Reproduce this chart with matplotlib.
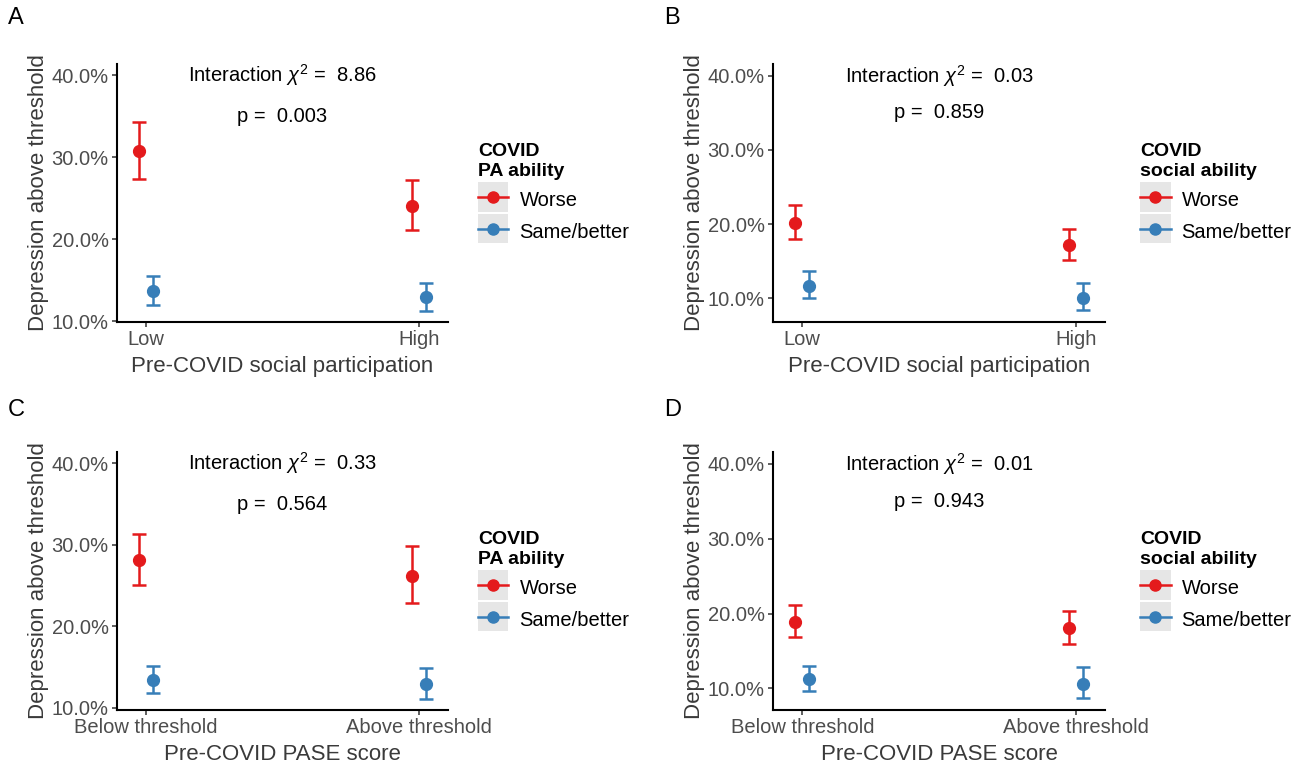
import numpy as np
import matplotlib
matplotlib.use('Agg')
import matplotlib.pyplot as plt
from matplotlib.lines import Line2D
from matplotlib.patches import Rectangle
from matplotlib.legend_handler import HandlerLine2D

plt.rcParams['font.family'] = ['Liberation Sans', 'DejaVu Sans']
plt.rcParams['mathtext.fontset'] = 'custom'
plt.rcParams['mathtext.rm'] = 'Liberation Sans'
plt.rcParams['mathtext.it'] = 'Liberation Sans:italic'

# ---- data (percent) ----
group_labels = ['Worse', 'Same/better']
social_cats = ['Low', 'High']
pase_cats = ['Below threshold', 'Above threshold']

# A: social participation x PA ability
a_worse = [30.8, 24.1]; a_worse_lo = [27.4, 21.1]; a_worse_hi = [34.3, 27.2]
a_same = [13.65, 12.9]; a_same_lo = [12.0, 11.3]; a_same_hi = [15.55, 14.7]
# B: social participation x social ability
b_worse = [20.1, 17.2]; b_worse_lo = [18.0, 15.2]; b_worse_hi = [22.6, 19.4]
b_same = [11.7, 10.0]; b_same_lo = [10.0, 8.4]; b_same_hi = [13.7, 12.0]
# C: PASE score x PA ability
c_worse = [28.1, 26.2]; c_worse_lo = [25.1, 22.9]; c_worse_hi = [31.4, 29.9]
c_same = [13.4, 12.95]; c_same_lo = [11.85, 11.15]; c_same_hi = [15.2, 14.85]
# D: PASE score x social ability
d_worse = [18.9, 18.0]; d_worse_lo = [16.9, 15.9]; d_worse_hi = [21.1, 20.4]
d_same = [11.2, 10.6]; d_same_lo = [9.6, 8.7]; d_same_hi = [13.0, 12.8]

chi_vals = ['8.86', '0.03', '0.33', '0.01']
p_vals = ['0.003', '0.859', '0.564', '0.943']

red = '#E41A1C'
blue = '#377EB8'
grey_txt = '#4D4D4D'


class KeyHandler(HandlerLine2D):
    # legend key with grey square background, like ggplot
    def create_artists(self, legend, orig_handle, xdescent, ydescent,
                       width, height, fontsize, trans):
        cy = (height - ydescent) / 2.0
        kh = 21.0
        bg = Rectangle((-xdescent, cy - kh / 2), width, kh,
                       facecolor='#E6E6E6', edgecolor='none', transform=trans)
        arts = super().create_artists(legend, orig_handle, xdescent, ydescent,
                                      width, height, fontsize, trans)
        return [bg] + list(arts)


def panel(ax, cats, worse, worse_lo, worse_hi, same, same_lo, same_hi,
          chi, p, xlabel, legend_title, ylim, leg_x):
    x = np.arange(len(cats)) + 1.0
    dodge = 0.025
    for vals, lo, hi, col, off in [(worse, worse_lo, worse_hi, red, -dodge),
                                   (same, same_lo, same_hi, blue, dodge)]:
        v = np.array(vals)
        err = [v - np.array(lo), np.array(hi) - v]
        ax.errorbar(x + off, v, yerr=err, fmt='o', color=col, ms=8.5,
                    elinewidth=1.8, capsize=5, capthick=1.8)
    ax.set_xlim(1 - 0.107, 2 + 0.107)
    ax.set_ylim(*ylim)
    ax.set_xticks(x)
    ax.set_xticklabels(cats)
    ax.set_yticks([10, 20, 30, 40])
    ax.set_yticklabels([f'{t:.1f}%' for t in [10, 20, 30, 40]])
    for s in ['top', 'right']:
        ax.spines[s].set_visible(False)
    for s in ['left', 'bottom']:
        ax.spines[s].set_linewidth(1.5)
    ax.tick_params(axis='both', labelsize=14.5, labelcolor=grey_txt,
                   length=3.5, width=1.1, color='#333333', pad=2.5)
    ax.set_xlabel(xlabel, fontsize=16, color='#3a3a3a', labelpad=5)
    ax.set_ylabel('Depression above threshold', fontsize=16, color='#3a3a3a',
                  labelpad=2)
    ax.text(1.5, 40, r'Interaction $\chi^2$ =  ' + chi, ha='center',
            va='center', fontsize=14.5)
    ax.text(1.5, 35, 'p =  ' + p, ha='center', va='center', fontsize=14.5)

    handles = [Line2D([], [], color=red, marker='o', ms=8, lw=1.8),
               Line2D([], [], color=blue, marker='o', ms=8, lw=1.8)]
    leg = ax.legend(handles, group_labels, title=legend_title,
                    loc='center left', bbox_to_anchor=(leg_x, 0.5),
                    frameon=False, fontsize=14.5, borderpad=0,
                    handlelength=1.5, handleheight=1.45, handletextpad=0.55,
                    labelspacing=0.38, alignment='left',
                    handler_map={Line2D: KeyHandler(numpoints=1)},
                    title_fontproperties={'weight': 'bold', 'size': 14})
    leg.get_title().set_linespacing(1.25)


fig = plt.figure(figsize=(12.96, 7.67), dpi=100)
W, H = 1296, 767


def add_ax(x0, x1, y0, y1):
    return fig.add_axes([x0 / W, 1 - y1 / H, (x1 - x0) / W, (y1 - y0) / H])


axA = add_ax(117, 448, 64, 322)
axB = add_ax(773, 1105, 64, 322)
axC = add_ax(117, 448, 452, 710)
axD = add_ax(773, 1105, 452, 710)

panel(axA, social_cats, a_worse, a_worse_lo, a_worse_hi, a_same, a_same_lo, a_same_hi,
      chi_vals[0], p_vals[0], 'Pre-COVID social participation', 'COVID\nPA ability',
      (9.9, 41.4), 1.061)
panel(axB, social_cats, b_worse, b_worse_lo, b_worse_hi, b_same, b_same_lo, b_same_hi,
      chi_vals[1], p_vals[1], 'Pre-COVID social participation', 'COVID\nsocial ability',
      (6.8, 41.6), 1.076)
panel(axC, pase_cats, c_worse, c_worse_lo, c_worse_hi, c_same, c_same_lo, c_same_hi,
      chi_vals[2], p_vals[2], 'Pre-COVID PASE score', 'COVID\nPA ability',
      (9.75, 41.4), 1.061)
panel(axD, pase_cats, d_worse, d_worse_lo, d_worse_hi, d_same, d_same_lo, d_same_hi,
      chi_vals[3], p_vals[3], 'Pre-COVID PASE score', 'COVID\nsocial ability',
      (7.1, 41.6), 1.076)

# panel letters
for letter, (px, py) in zip('ABCD', [(8, 18), (664, 18), (8, 410), (664, 410)]):
    fig.text(px / W, 1 - py / H, letter, fontsize=17, va='center', ha='left')

fig.savefig('out.png', dpi=100)
